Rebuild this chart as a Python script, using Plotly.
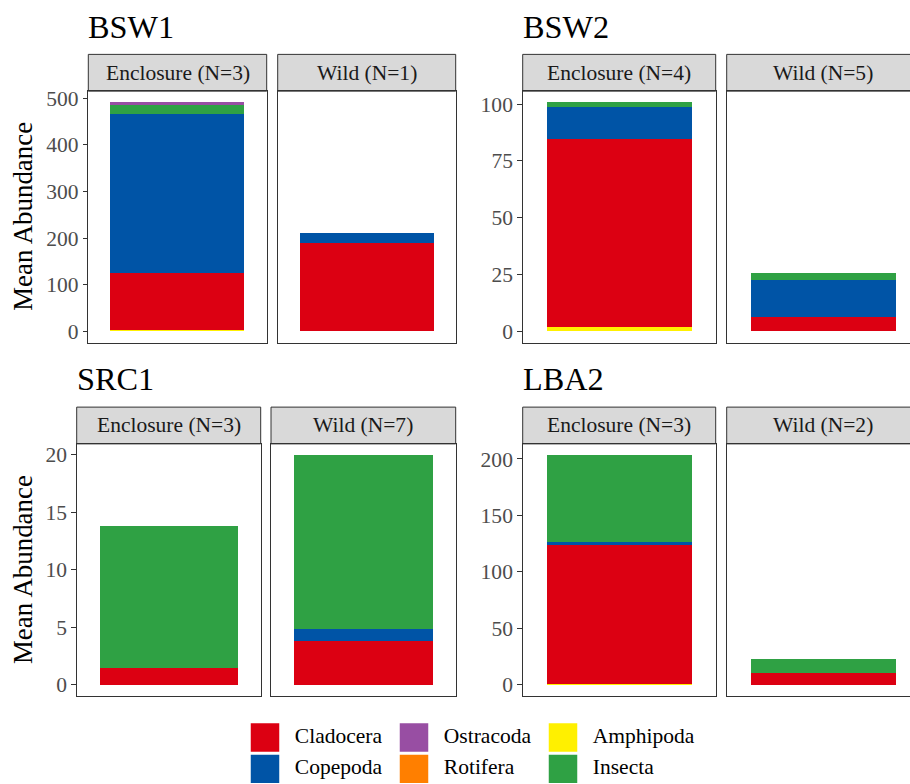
import plotly.graph_objects as go

# ---------------------------------------------------------------- data
W, H = 910, 784

sites = ["BSW1", "BSW2", "SRC1", "LBA2"]
groups = ["Enclosure", "Wild"]
n_samples = {"BSW1": [3, 1], "BSW2": [4, 5], "SRC1": [3, 7], "LBA2": [3, 2]}
y_dtick = {"BSW1": 100, "BSW2": 25, "SRC1": 5, "LBA2": 50}

# mean abundance per taxon, listed as [Enclosure, Wild] for each site
cladocera = {"BSW1": [122, 190], "BSW2": [82.8, 6.2], "SRC1": [1.5, 3.83], "LBA2": [122.5, 10.6]}
copepoda = {"BSW1": [341, 21], "BSW2": [14.3, 16.1], "SRC1": [0, 1.0], "LBA2": [2.9, 0]}
ostracoda = {"BSW1": [5, 0], "BSW2": [0, 0], "SRC1": [0, 0], "LBA2": [0, 0]}
rotifera = {"BSW1": [0, 0], "BSW2": [0, 0], "SRC1": [0, 0], "LBA2": [0, 0]}
amphipoda = {"BSW1": [3, 0], "BSW2": [1.75, 0], "SRC1": [0, 0], "LBA2": [1.0, 0]}
insecta = {"BSW1": [20, 0], "BSW2": [1.8, 3.3], "SRC1": [12.3, 15.1], "LBA2": [76.8, 12.6]}

abundance = {
    "Cladocera": cladocera,
    "Copepoda": copepoda,
    "Ostracoda": ostracoda,
    "Rotifera": rotifera,
    "Amphipoda": amphipoda,
    "Insecta": insecta,
}
legend_order = ["Cladocera", "Copepoda", "Ostracoda", "Rotifera", "Amphipoda", "Insecta"]
stack_order = ["Amphipoda", "Rotifera", "Cladocera", "Copepoda", "Insecta", "Ostracoda"]
colors = {
    "Cladocera": "#DC0012",
    "Copepoda": "#0054A6",
    "Ostracoda": "#984EA3",
    "Rotifera": "#FF7F00",
    "Amphipoda": "#FFF000",
    "Insecta": "#2FA144",
}

# ---------------------------------------------------------------- layout geometry (pixels)
panel_x = {
    "BSW1": [(88.3, 266.7), (277.7, 455.7)],
    "BSW2": [(522.7, 715.7), (726.7, 919.7)],
    "SRC1": [(76.7, 260.7), (271.0, 455.7)],
    "LBA2": [(522.7, 715.7), (726.7, 919.7)],
}
panel_y = {
    "BSW1": (87.7, 340.7),
    "BSW2": (87.7, 340.7),
    "SRC1": (442.7, 696.7),
    "LBA2": (442.7, 696.7),
}
STRIP_H = 37.0
SERIF = "Liberation Serif, Times New Roman, serif"
BASE = 26.9
SMALL = BASE * 0.8


def fx(p):
    return p / W


def fy(p):
    return 1 - p / H


fig = go.Figure()
layout = dict(
    width=W, height=H,
    margin=dict(l=0, r=0, t=0, b=0),
    paper_bgcolor="white", plot_bgcolor="white",
    barmode="stack", bargap=0,
    showlegend=False, hovermode=False,
    font=dict(family=SERIF, color="black"),
)
shapes, annotations = [], []

k = 0
for site in sites:
    totals = [sum(abundance[t][site][g] for t in legend_order) for g in range(2)]
    ymax = max(totals)
    yr = [-0.05 * ymax, 1.05 * ymax]
    top, bottom = panel_y[site]
    for g, grp in enumerate(groups):
        k += 1
        sfx = "" if k == 1 else str(k)
        left, right = panel_x[site][g]
        vis_right = min(right, W)
        span = 1.2 * (vis_right - left) / (right - left)
        cropped = right > W

        for taxon in stack_order:
            fig.add_trace(go.Bar(
                x=[0], y=[abundance[taxon][site][g]], width=0.9,
                marker=dict(color=colors[taxon], line=dict(width=0)),
                xaxis="x" + sfx, yaxis="y" + sfx, name=taxon,
            ))

        layout["xaxis" + sfx] = dict(
            domain=[fx(left), fx(vis_right)], anchor="y" + sfx,
            range=[-0.6, -0.6 + span], showgrid=False, zeroline=False,
            showticklabels=False, ticks="", showline=True, mirror=True,
            linecolor="#333333", linewidth=1, fixedrange=True,
        )
        layout["yaxis" + sfx] = dict(
            domain=[fy(bottom), fy(top)], anchor="x" + sfx,
            range=yr, showgrid=False, zeroline=False,
            showline=True, mirror=not cropped, linecolor="#333333", linewidth=1,
            showticklabels=(g == 0), ticks="outside" if g == 0 else "",
            tickmode="linear", tick0=0, dtick=y_dtick[site],
            ticklen=4.5, tickwidth=1, tickcolor="#333333",
            tickfont=dict(family=SERIF, size=SMALL, color="#4D4D4D"),
            fixedrange=True,
        )

        # facet strip
        shapes.append(dict(
            type="rect", xref="paper", yref="paper",
            x0=fx(left), x1=fx(right), y0=fy(top), y1=fy(top - STRIP_H),
            fillcolor="#D9D9D9", line=dict(color="#333333", width=1), layer="below",
        ))
        annotations.append(dict(
            text=f"{grp} (N={n_samples[site][g]})", xref="paper", yref="paper",
            x=fx((left + right) / 2), y=fy(top - STRIP_H / 2),
            xanchor="center", yanchor="middle", showarrow=False,
            font=dict(family=SERIF, size=SMALL, color="#1A1A1A"),
        ))

    # site title
    left0 = panel_x[site][0][0]
    annotations.append(dict(
        text=site, xref="paper", yref="paper",
        x=fx(left0 - 2), y=fy(top - STRIP_H - 27.8),
        xanchor="left", yanchor="middle", showarrow=False,
        font=dict(family=SERIF, size=BASE * 1.2, color="black"),
    ))
    # y-axis title on the left-hand column
    if site in ("BSW1", "SRC1"):
        annotations.append(dict(
            text="Mean Abundance", xref="paper", yref="paper",
            x=fx(23), y=fy((top + bottom) / 2), textangle=-90,
            xanchor="center", yanchor="middle", showarrow=False,
            font=dict(family=SERIF, size=BASE, color="black"),
        ))

# ---------------------------------------------------------------- legend (3 columns x 2 rows)
leg_col = [i // 2 for i in range(len(legend_order))]
leg_row = [i % 2 for i in range(len(legend_order))]
fig.add_trace(go.Scatter(
    x=leg_col, y=leg_row, mode="markers",
    marker=dict(symbol="square", size=28.5,
                color=[colors[t] for t in legend_order], line=dict(width=0)),
    xaxis="x9", yaxis="y9",
))
fig.add_trace(go.Scatter(
    x=[c + 0.2 for c in leg_col], y=leg_row, mode="text",
    text=legend_order, textposition="middle right",
    textfont=dict(family=SERIF, size=SMALL, color="black"),
    xaxis="x9", yaxis="y9", cliponaxis=False,
))
KEY_X0, KEY_DX = 265.0, 149.0
ROW_Y0, ROW_DY = 738.3, 31.7
layout["xaxis9"] = dict(
    domain=[0, 1], anchor="y9", visible=False, fixedrange=True,
    range=[-KEY_X0 / KEY_DX, (W - KEY_X0) / KEY_DX],
)
layout["yaxis9"] = dict(
    domain=[0, 78 / H], anchor="x9", visible=False, fixedrange=True,
    range=[(H - ROW_Y0) / ROW_DY, -(ROW_Y0 - (H - 78)) / ROW_DY],
)

layout["shapes"] = shapes
layout["annotations"] = annotations
fig.update_layout(**layout)

fig.write_html("out.html", config={"displayModeBar": False})
